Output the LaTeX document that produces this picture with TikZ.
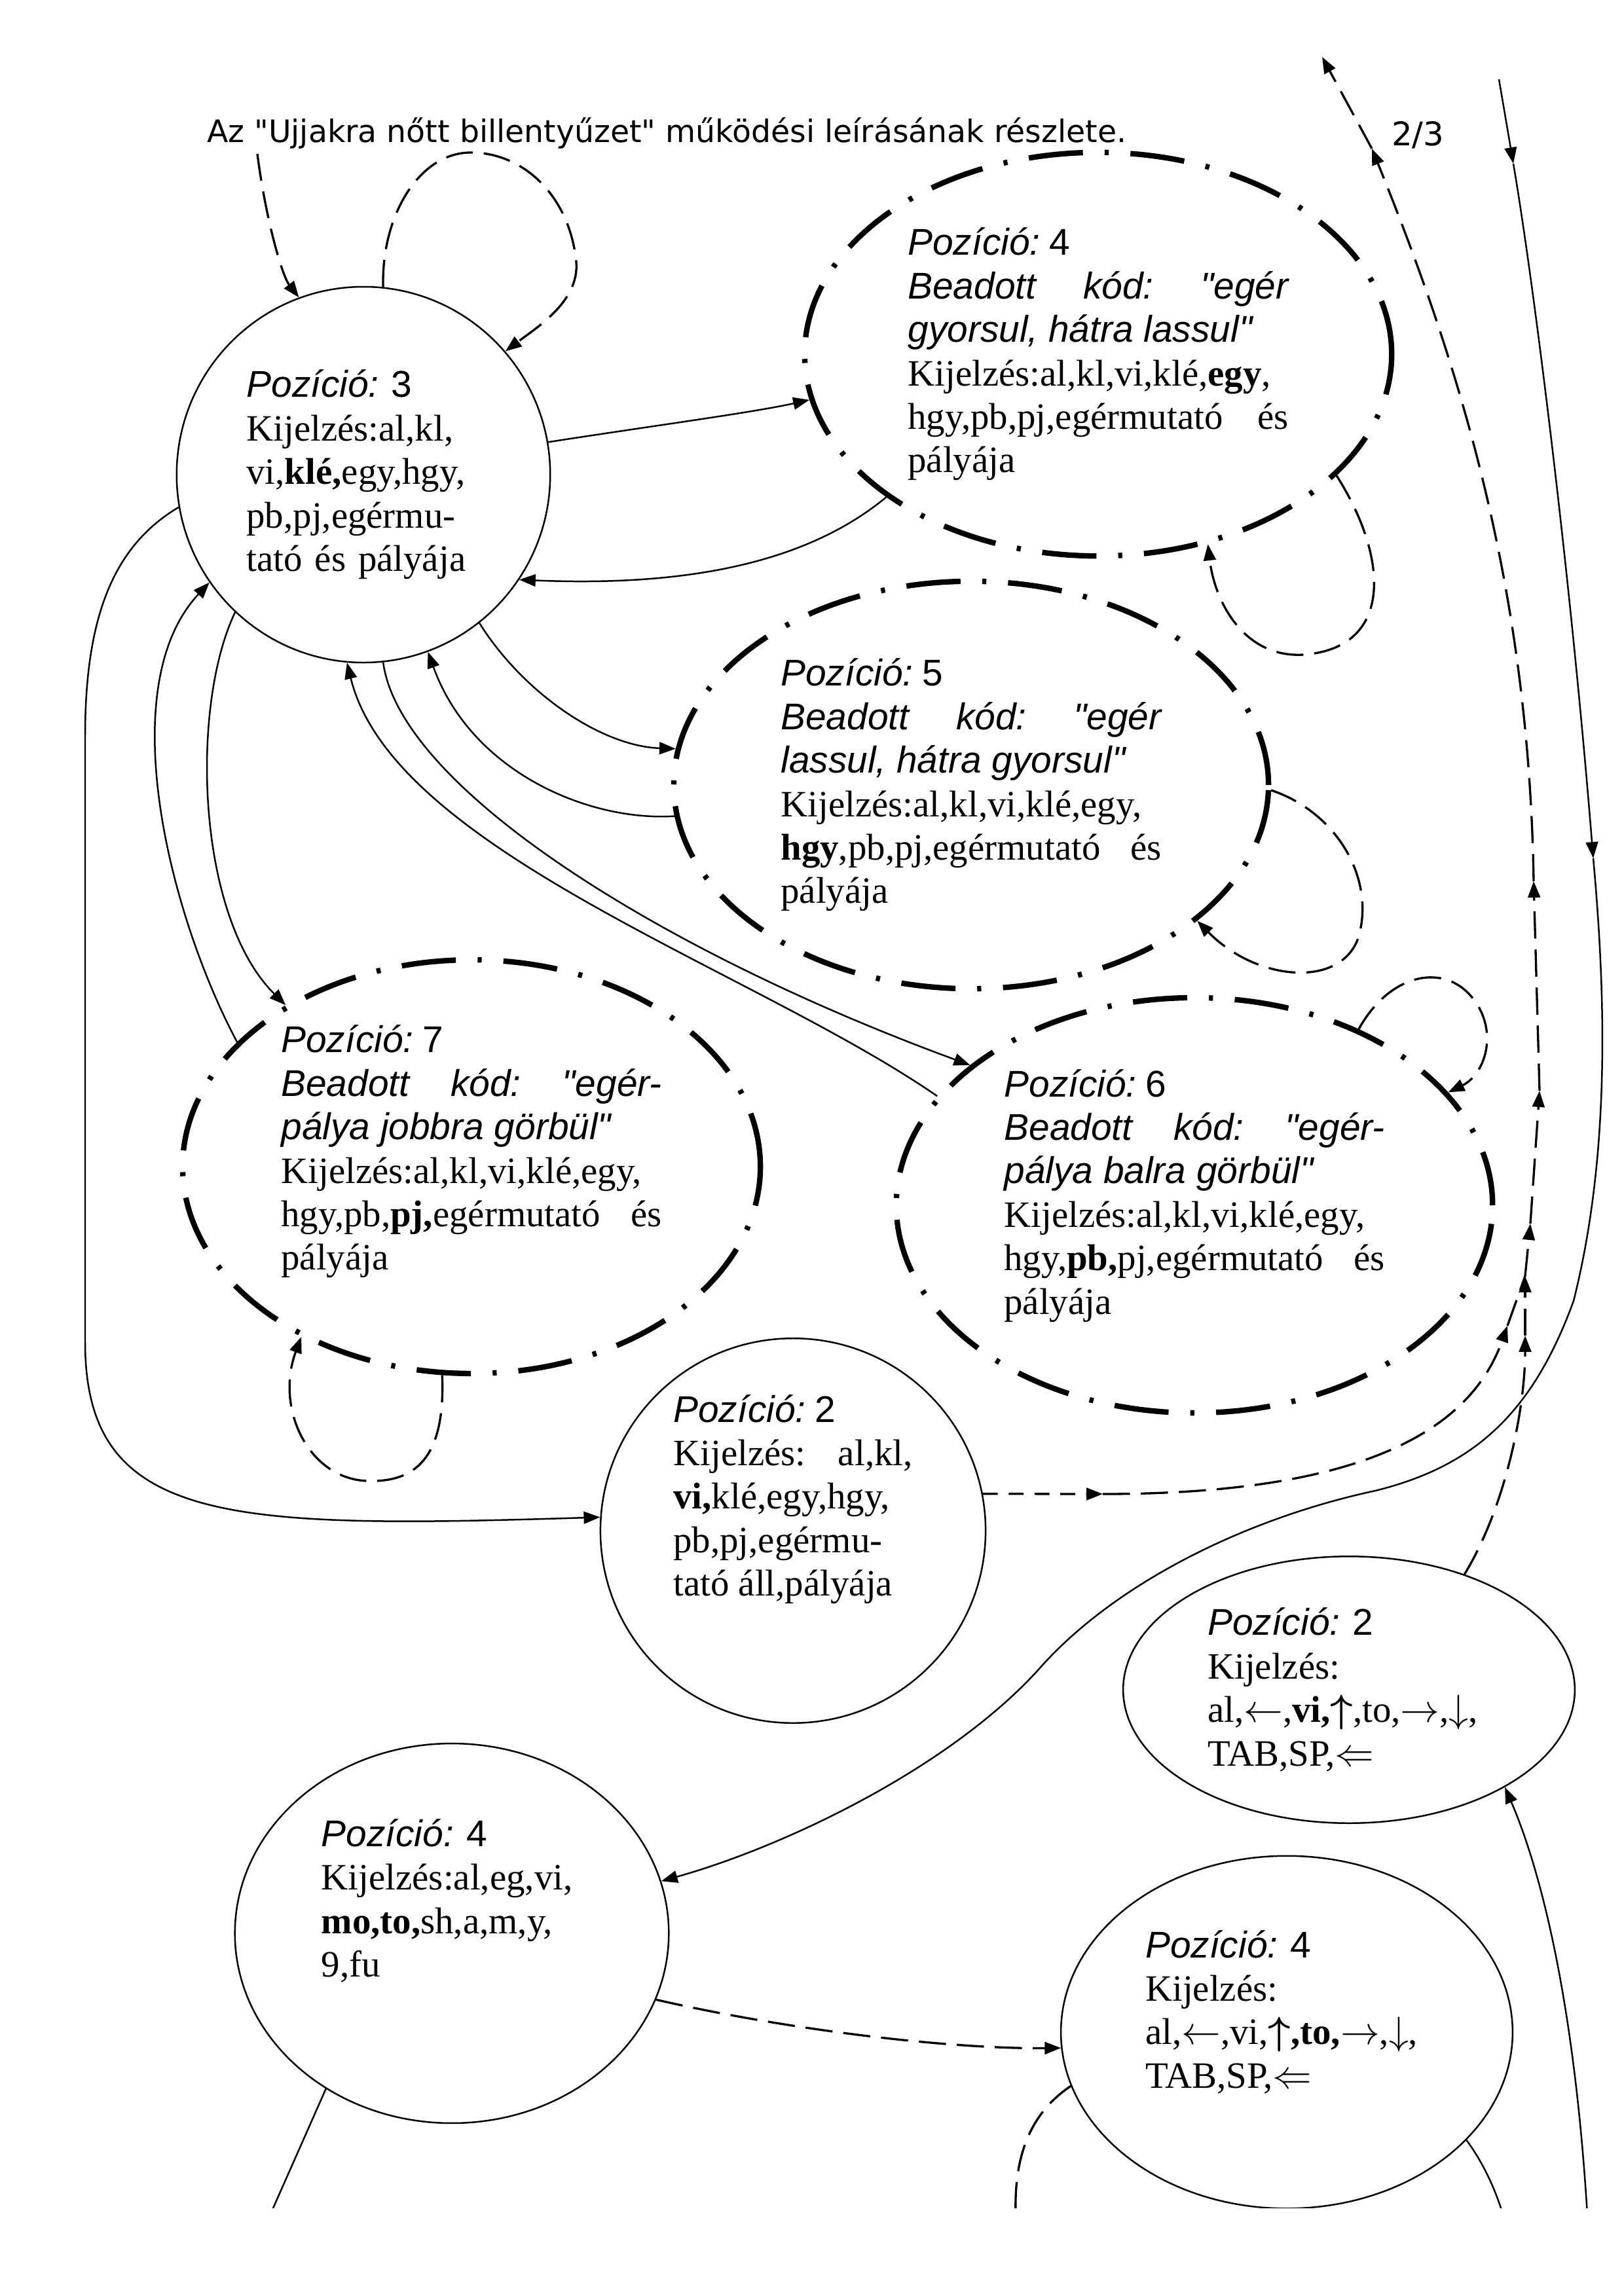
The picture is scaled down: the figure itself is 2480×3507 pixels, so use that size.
\documentclass[tikz,border=0pt]{standalone}
\usepackage{fontspec}
\setmainfont{Liberation Serif}
\newfontfamily\arialfont{Liberation Sans}
\newfontfamily\titlefont{DejaVu Sans}
\usepackage{tikz}
\usetikzlibrary{arrows.meta,shapes.geometric}

\tolerance=10000
\hbadness=10000
\hyphenpenalty=10000
\frenchspacing

\newcommand\poz[1]{{\arialfont\itshape Pozíció:} {\arialfont #1}}
\newcommand\kod[1]{{\arialfont\itshape #1}}
\newcommand\dropby[1]{\rule[-#1]{0pt}{#1}}

\begin{document}
\begin{tikzpicture}[x=0.084677mm,y=-0.084677mm,
    >={Triangle[length=6pt,width=4.5pt]},line width=0.6pt,
    txt/.style={font=\fontsize{13.7}{16}\selectfont,inner sep=0pt},
    pstate/.style={ellipse,draw,line width=0.6pt,txt,align=left},
    cstate/.style={ellipse,draw,line width=2pt,
      dash pattern=on 20pt off 8pt on 1.5pt off 8pt,txt,
      text width=140pt,align=justify},
    dashline/.style={line width=0.8pt,dash pattern=on 10pt off 4pt},
    shortdash/.style={line width=0.8pt,dash pattern=on 5.5pt off 4pt}]
  \useasboundingbox (0,0) rectangle (2480,3507);
  \clip (0,0) rectangle (2480,3372);

  \node[anchor=base west,font=\titlefont\fontsize{11.4}{13}\selectfont] (title) at (301,217)
    {Az "Ujjakra nőtt billentyűzet" működési leírásának részlete.};
  \node[anchor=base west,font=\titlefont\fontsize{12}{14}\selectfont] (page) at (2110,222) {2/3};

  % states
  \node[pstate,text width=86pt,minimum width=48.3mm,minimum height=48.6mm] (p3) at (555,725)
    {\poz{3}\\Kijelzés:al,kl,\\vi,\textbf{klé,}egy,hgy,\\pb,pj,egérmu-\\tató és pályája};
  \node[cstate,minimum width=75.9mm,minimum height=52.2mm] (p4a) at (1677,541)
    {\poz{4}\par\kod{Beadott kód: "egér\linebreak gyorsul, hátra lassul"}\par
     Kijelzés:al,kl,vi,klé,\textbf{egy},\linebreak hgy,pb,pj,egérmutató és\linebreak pályája};
  \node[cstate,minimum width=76.9mm,minimum height=52.7mm] (p5) at (1483,1199)
    {\poz{5}\par\kod{Beadott kód: "egér\linebreak lassul, hátra gyorsul"}\par
     Kijelzés:al,kl,vi,klé,egy,\linebreak\textbf{hgy},pb,pj,egérmutató és\linebreak pályája};
  \node[cstate,minimum width=74.7mm,minimum height=53.5mm] (p7) at (720,1782)
    {\poz{7}\par\kod{Beadott kód: "egér-\linebreak pálya jobbra görbül"}\par
     Kijelzés:al,kl,vi,klé,egy,\linebreak hgy,pb,\textbf{pj,}egérmutató és\linebreak pályája\dropby{14pt}};
  \node[cstate,minimum width=77.1mm,minimum height=53.7mm] (p6) at (1824,1841)
    {\poz{6}\par\kod{Beadott kód: "egér-\linebreak pálya balra görbül"}\par
     Kijelzés:al,kl,vi,klé,egy,\linebreak hgy,\textbf{pb,}pj,egérmutató és\linebreak pályája\dropby{10pt}};
  \node[pstate,text width=88pt,align=justify,minimum width=49.8mm,minimum height=49.5mm] (p2a) at (1211,2338)
    {\poz{2}\par Kijelzés: al,kl,\linebreak\textbf{vi,}klé,egy,hgy,\linebreak pb,pj,egérmu-\linebreak tató áll,pályája\dropby{26pt}};
  \node[pstate,text width=104pt,minimum width=58.4mm,minimum height=34.5mm] (p2b) at (2060,2581)
    {\poz{2}\\Kijelzés:\\al,$\leftarrow$,\textbf{vi,}{\boldmath$\uparrow$},to,$\rightarrow$,$\downarrow$,\\TAB,SP,$\Leftarrow$};
  \node[pstate,text width=96pt,minimum width=56.1mm,minimum height=49.1mm] (p4b) at (690,2953)
    {\poz{4}\\Kijelzés:al,eg,vi,\\\textbf{mo,to,}sh,a,m,y,\\9,fu\dropby{26pt}};
  \node[pstate,text width=104pt,minimum width=58.4mm,minimum height=45.6mm] (p4c) at (1965,3104)
    {\poz{4}\\Kijelzés:\\al,$\leftarrow$,vi,{\boldmath$\uparrow$}\textbf{,to,}$\rightarrow$,$\downarrow$,\\TAB,SP,$\Leftarrow$\dropby{17pt}};

  % free ends and bends
  \coordinate (start) at (393,235);
  \coordinate (pa) at (1684,2282);
  \coordinate (pb) at (2302,2025);
  \coordinate (qa) at (2329,2040);
  \coordinate (qb) at (2329,1949);
  \coordinate (qc) at (2337,1869);
  \coordinate (qd) at (2351,1666);
  \coordinate (qe) at (2342,1346);
  \coordinate (qf) at (2095,227);
  \coordinate (qg) at (2019,87);
  \coordinate (rtop) at (2289,121);
  \coordinate (ra) at (2311,250);
  \coordinate (rb) at (2433,1311);
  \coordinate (sb) at (2425,3400);
  \coordinate (tb) at (2300,3400);
  \coordinate (ub) at (405,3400);
  \coordinate (vb) at (1552,3400);

  % around Pozicio 3
  \draw[dashline,->] (start) .. controls (405,330) and (430,420) .. (p3.110);
  \draw[dashline,->] (p3.84) .. controls (582,330) and (640,233) .. (719,233)
    .. controls (800,233) and (870,300) .. (880,400) .. controls (885,460) and (820,500) .. (p3.41);
  \draw[->] (p3.10) .. controls (1000,650) and (1150,630) .. (p4a.189);
  \draw[->] (p4a.214) .. controls (1220,870) and (1020,895) .. (p3.-34);
  \draw[dashline,->] (p4a.-27) .. controls (2120,850) and (2130,990) .. (1990,1000)
    .. controls (1900,1005) and (1855,920) .. (p4a.-60);
  \draw[->] (p3.-52) .. controls (800,1060) and (920,1140) .. (p5.173);
  \draw[->] (p5.186) .. controls (900,1255) and (720,1180) .. (p3.-70);
  \draw[->] (p3.-84) .. controls (610,1200) and (1000,1450) .. (p6.148);
  \draw[->] (p6.157) .. controls (1150,1480) and (600,1300) .. (p3.-95);
  \draw[->] (p3.-133) .. controls (290,1080) and (300,1400) .. (p7.139);
  \draw[->] (p7.152) .. controls (260,1400) and (170,1050) .. (p3.-145);
  \draw[->] (p3.190) .. controls (180,830) and (130,930) .. (130,1124) -- (130,2050)
    .. controls (130,2330) and (350,2335) .. (p2a.176);

  % self loops
  \draw[dashline,->] (p7.-98) .. controls (680,2220) and (640,2265) .. (560,2262)
    .. controls (470,2258) and (420,2150) .. (p7.-135);
  \draw[dashline,->] (p5.-1) .. controls (2040,1240) and (2100,1340) .. (2075,1430)
    .. controls (2050,1510) and (1920,1500) .. (p5.-31);
  \draw[dashline,->] (p6.47) .. controls (2120,1490) and (2200,1470) .. (2245,1520)
    .. controls (2290,1570) and (2270,1640) .. (p6.24);

  % dashed way up on the right
  \draw[shortdash,->] (p2a.11) -- (pa);
  \draw[dashline,->] (pa) .. controls (2050,2282) and (2240,2200) .. (pb);
  \draw[dashline] (pb) -- (qb);
  \draw[dashline,->] (p2b.45) .. controls (2300,2300) and (2329,2150) .. (qa);
  \draw[dashline,->] (qa) -- (qb);
  \draw[dashline,->] (qb) -- (qc);
  \draw[dashline,->] (qc) -- (qd);
  \draw[dashline,->] (qd) -- (qe);
  \draw[dashline,->] (qe) .. controls (2335,900) and (2230,560) .. (qf);
  \draw[dashline,->] (qf) -- (qg);

  % solid way down on the right
  \draw[->] (rtop) -- (ra);
  \draw[->] (ra) .. controls (2345,450) and (2400,900) .. (rb);
  \draw[->] (rb) .. controls (2455,1550) and (2455,1780) .. (2403,1987)
    .. controls (2340,2160) and (2250,2240) .. (2100,2277)
    .. controls (1900,2320) and (1700,2420) .. (1586,2550)
    .. controls (1450,2700) and (1200,2820) .. (p4b.14);

  % bottom of the page
  \draw[->] (sb) .. controls (2405,3050) and (2350,2850) .. (p2b.-32);
  \draw (p4c.-31) .. controls (2270,3310) and (2290,3360) .. (tb);
  \draw (p4b.-129) -- (ub);
  \draw[dashline] (p4c.194) .. controls (1570,3230) and (1545,3300) .. (vb);
  \draw[dashline,->] (p4b.-18) .. controls (1200,3100) and (1450,3130) .. (p4c.184);
\end{tikzpicture}
\end{document}
